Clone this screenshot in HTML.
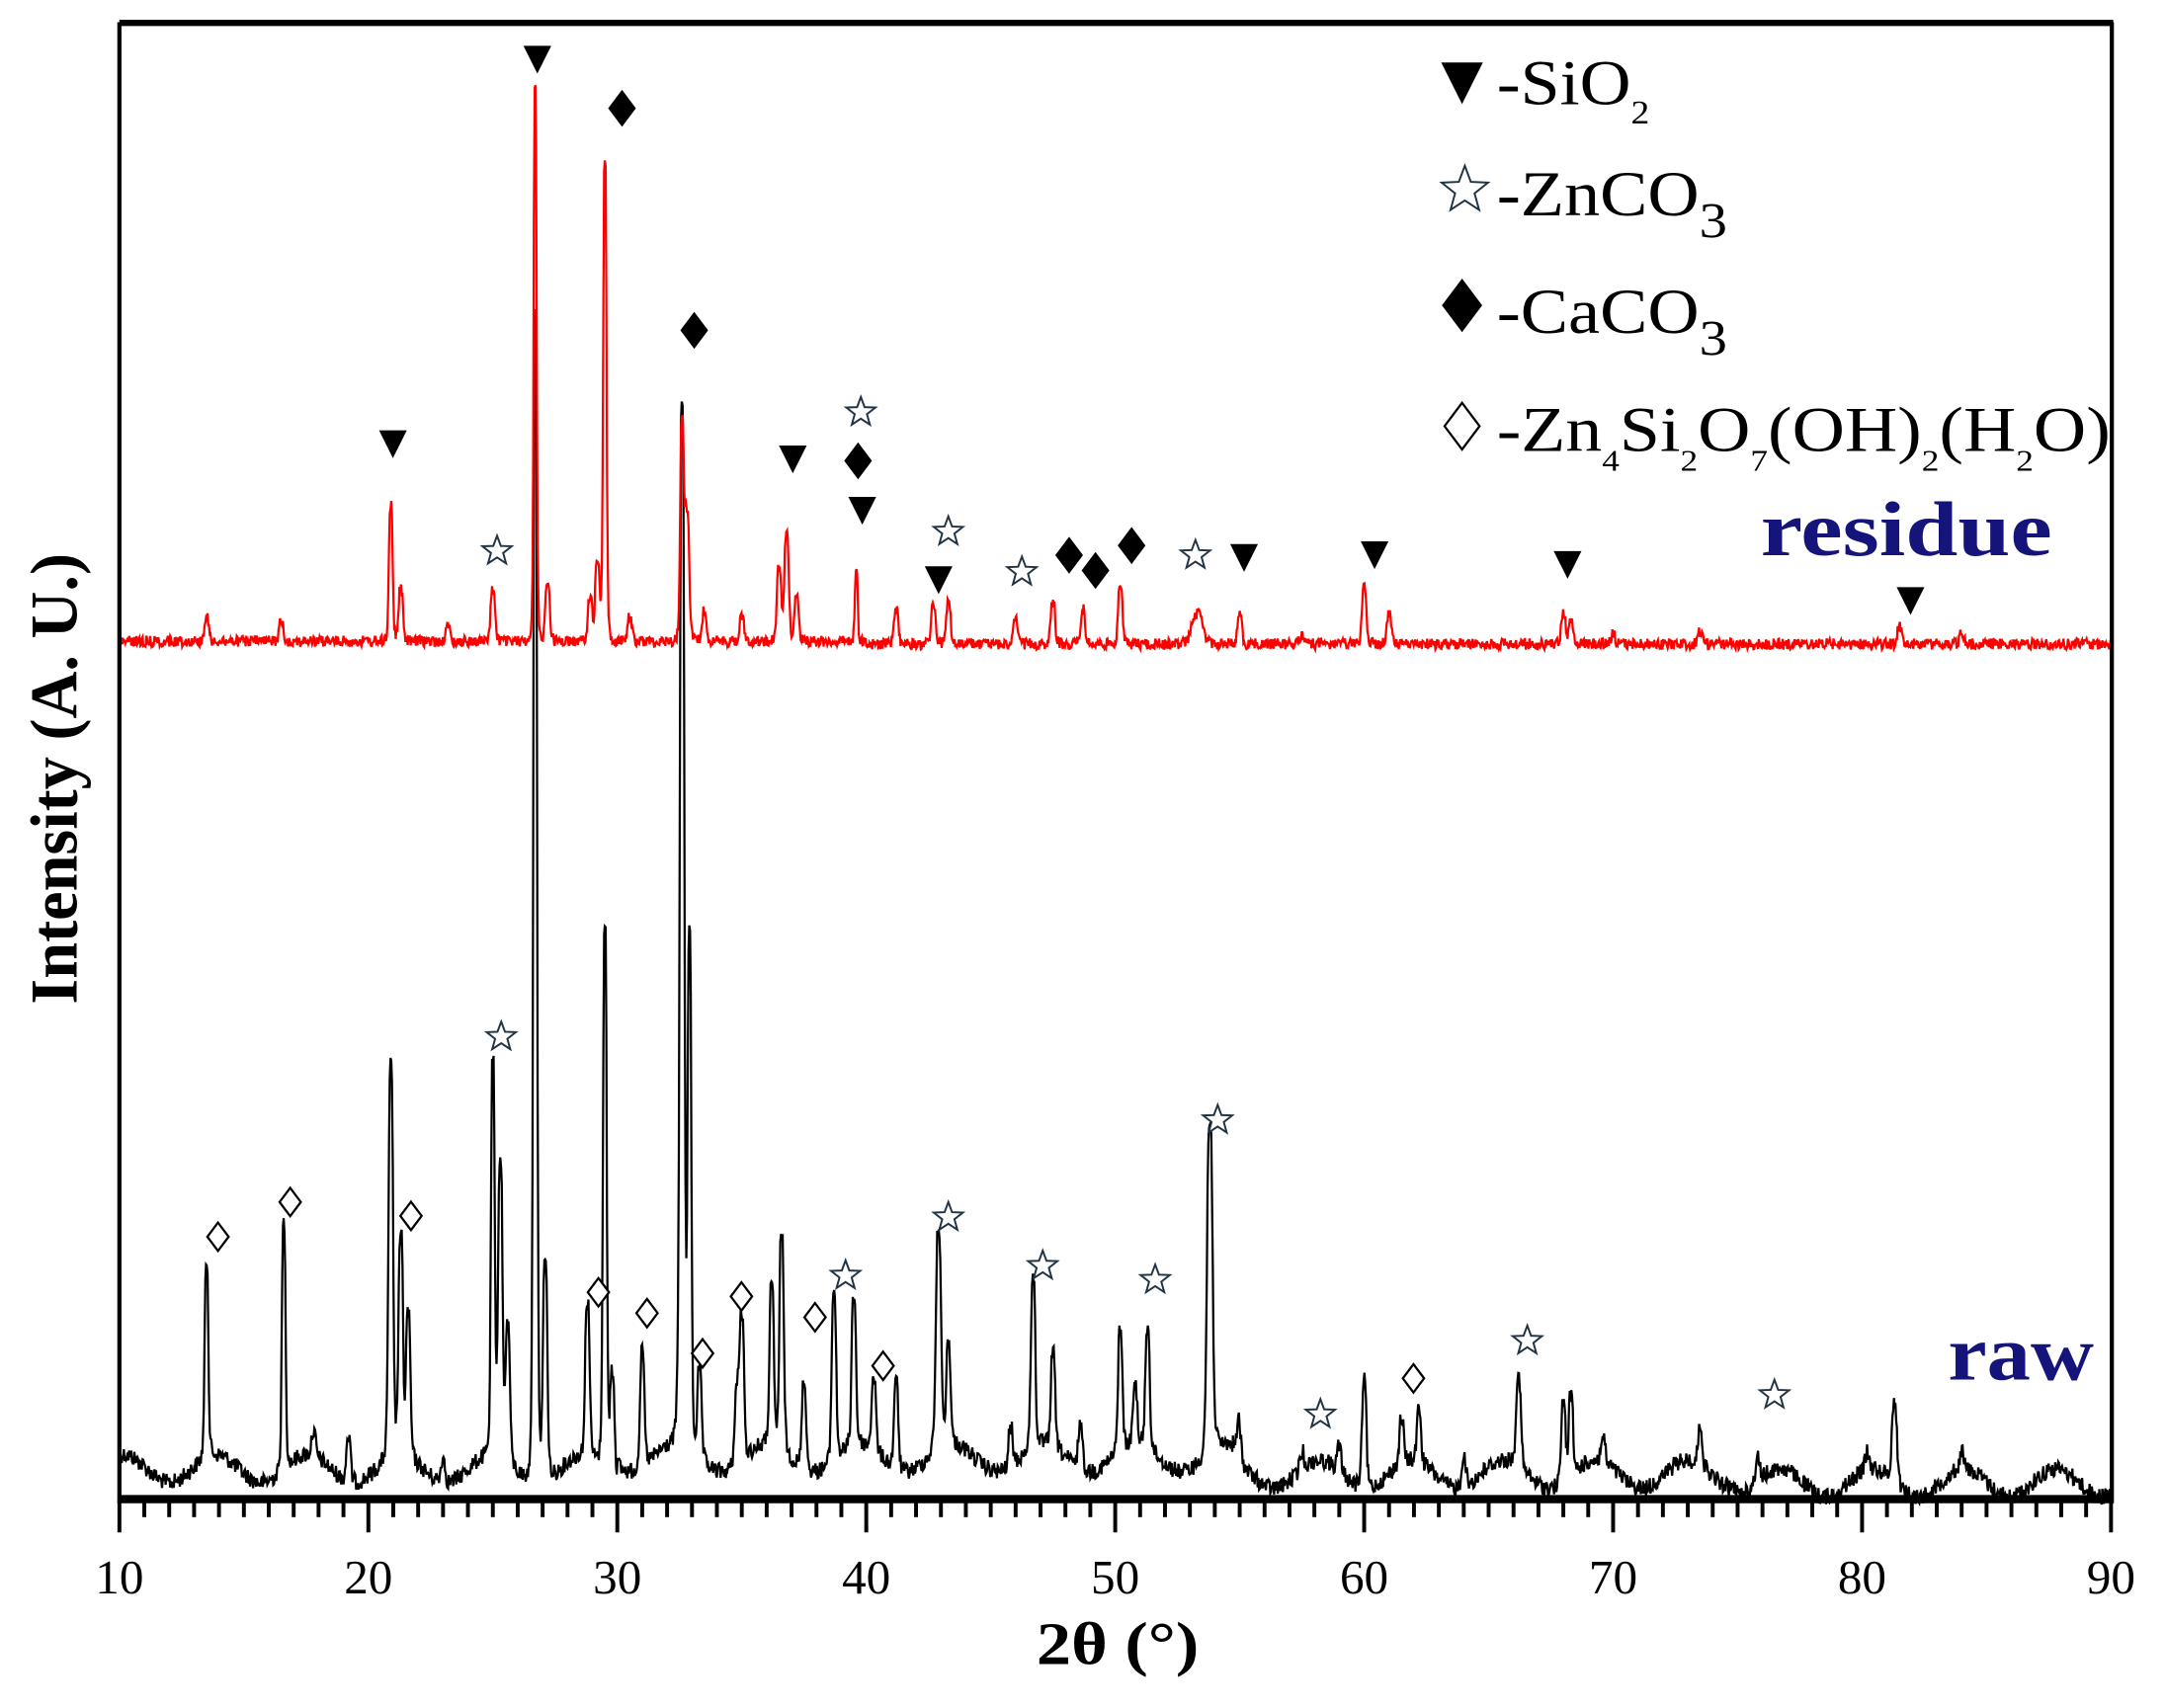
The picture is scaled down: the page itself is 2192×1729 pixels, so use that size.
<!DOCTYPE html>
<html><head><meta charset="utf-8"><style>
html,body{margin:0;padding:0;background:#fff;}
svg{display:block;}
text{font-family:"Liberation Serif",serif;}
</style></head><body>
<svg id="s" width="2192" height="1729" viewBox="0 0 1560 1230.5" preserveAspectRatio="none" xmlns="http://www.w3.org/2000/svg">
<rect width="1560" height="1231" fill="#fff"/>
<g id="curves"></g>
<g id="frame" fill="none" stroke="#000">
<line x1="86" y1="16.5" x2="1522" y2="16.5" stroke-width="4.5"/>
<line x1="86" y1="16" x2="86" y2="1083" stroke-width="3"/>
<line x1="1521" y1="16" x2="1521" y2="1083" stroke-width="3"/>
<line x1="85" y1="1080" x2="1522" y2="1080" stroke-width="6"/>
</g>
<g id="ticks" stroke="#000" stroke-width="2.8"></g>
<g font-size="35" text-anchor="middle" fill="#000">
<text x="86" y="1148">10</text><text x="265.3" y="1148">20</text><text x="444.6" y="1148">30</text>
<text x="623.9" y="1148">40</text><text x="803.2" y="1148">50</text><text x="982.5" y="1148">60</text>
<text x="1161.8" y="1148">70</text><text x="1341.1" y="1148">80</text><text x="1520.4" y="1148">90</text>
</g>
<text x="805" y="1199" font-size="44" font-weight="bold" text-anchor="middle" textLength="117" lengthAdjust="spacingAndGlyphs">2θ (°)</text>
<text transform="translate(55,561) rotate(-90)" font-size="48" font-weight="bold" text-anchor="middle" textLength="325" lengthAdjust="spacingAndGlyphs">Intensity (A. U.)</text>
<g id="marks"></g>
<g font-size="46" fill="#000">
<text x="1078" y="75" textLength="110" lengthAdjust="spacingAndGlyphs">-SiO<tspan font-size="24" dy="14">2</tspan></text>
<text x="1078" y="155" textLength="166" lengthAdjust="spacingAndGlyphs">-ZnCO<tspan font-size="36" dy="16">3</tspan></text>
<text x="1078" y="240" textLength="166" lengthAdjust="spacingAndGlyphs">-CaCO<tspan font-size="36" dy="16">3</tspan></text>
<text x="1078" y="325" textLength="442" lengthAdjust="spacingAndGlyphs">-Zn<tspan font-size="22" dy="14">4</tspan><tspan dy="-14">Si</tspan><tspan font-size="22" dy="14">2</tspan><tspan dy="-14">O</tspan><tspan font-size="22" dy="14">7</tspan><tspan dy="-14">(OH)</tspan><tspan font-size="22" dy="14">2</tspan><tspan dy="-14">(H</tspan><tspan font-size="22" dy="14">2</tspan><tspan dy="-14">O)</tspan></text>
</g>
<text x="1268" y="400" font-size="56" font-weight="bold" fill="#14147a" textLength="210" lengthAdjust="spacingAndGlyphs">residue</text>
<text x="1403" y="994" font-size="56" font-weight="bold" fill="#14147a" textLength="105" lengthAdjust="spacingAndGlyphs">raw</text>
</svg>
<script>
(function(){
var NS="http://www.w3.org/2000/svg";
function X(d){return 86+17.93*(d-10);}
var seed=12345;function rnd(){seed=(seed*1103515245+12345)%2147483648;return seed/2147483648;}
function curve(base,peaks,noise,color,wave){
  var pts=[];
  for(var d=10;d<=90;d+=0.03){
    var y=base+(wave?wave(d):0)+(rnd()-0.5)*noise;
    for(var i=0;i<peaks.length;i++){var p=peaks[i];var w=p[2]||0.12;var t=(d-p[0])/w;
      y-= (base-p[1])/(1+t*t*t*t*2);}
    pts.push(X(d).toFixed(1)+","+y.toFixed(1));
  }
  var pl=document.createElementNS(NS,"polyline");
  pl.setAttribute("points",pts.join(" "));pl.setAttribute("fill","none");
  pl.setAttribute("stroke",color);pl.setAttribute("stroke-width","1.6");
  document.getElementById("curves").appendChild(pl);
}
var raw=[[13.5,920,0.1],[16.6,885,0.1],[17.8,1045],[19.2,1030],[20.9,780,0.12],[21.3,905],[21.6,960],[23,1045],[25,780,0.1],[25.3,850],[25.6,965],[26.7,220,0.1],[27.1,905],[28.8,950],[29.5,670,0.1],[29.8,990],[31,980],[32.6,310,0.12],[32.9,700,0.1],[33.3,1000],[34.8,1010],[35,960],[36.2,950],[36.6,910],[37.5,1000],[38.7,940],[39.5,955],[40.3,1010],[41.2,1000],[42.9,905,0.14],[43.3,990],[45.8,1035],[46.7,940],[47.5,995],[48.6,1030],[50.2,975],[50.8,1020],[51.3,975],[53.8,825,0.15],[55,1040],[57.5,1050],[59,1045],[60,985],[61.5,1030],[62.2,1025],[64,1040],[66.2,1000,0.14],[68,1005],[68.3,1005],[69.6,1045],[73.5,1035],[75.8,1045],[80.2,1050],[81.3,1005,0.14],[84,1050],[88.5,1062]];
curve(1062,raw,12,"#000",function(d){return 10*Math.sin(d*1.7)+(d<30?-4:0)+(d>75?6:0)+(d>30&&d<55?-12:0);});
var res=[[13.5,445],[16.5,448],[20.9,363,0.1],[21.3,425],[23.2,452],[25,425],[26.7,62,0.08],[27.2,420],[28.9,430],[29.2,405],[29.5,115,0.09],[30.5,445],[32.6,308,0.1],[32.8,370],[33.5,440],[35,445],[36.5,410],[36.8,385],[37.2,430],[39.6,410,0.08],[41.2,437],[42.7,433],[43.3,432],[46,445],[47.5,432],[48.7,437],[50.2,420],[53.3,440,0.3],[55,440],[57.5,455],[60,420,0.12],[61,440],[68,440],[68.3,445],[70,455],[73.5,453],[81.5,450],[84,455]];
curve(462,res,8,"#f00",function(d){return d>40?2:0;});
var tg=document.getElementById("ticks");
for(var d=10;d<=90;d++){var l=document.createElementNS(NS,"line");var x=X(d);
 l.setAttribute("x1",x);l.setAttribute("x2",x);l.setAttribute("y1",1080);l.setAttribute("y2",d%10==0?1104:1093);tg.appendChild(l);}
var mg=document.getElementById("marks");
function add(tag,attrs){var e=document.createElementNS(NS,tag);for(var k in attrs)e.setAttribute(k,attrs[k]);mg.appendChild(e);}
function tri(x,y,s){s=s||1;add("polygon",{points:(x-10*s)+","+(y-10*s)+" "+(x+10*s)+","+(y-10*s)+" "+x+","+(y+10*s),fill:"#000"});}
function dia(x,y,s,fill){s=s||1;add("polygon",{points:x+","+(y-12*s)+" "+(x+9*s)+","+y+" "+x+","+(y+12*s)+" "+(x-9*s)+","+y,fill:fill?"#000":"#fff",stroke:"#000","stroke-width":1.6});}
function star(x,y,s){s=s||1;var p=[];for(var i=0;i<10;i++){var r=(i%2?4.6:11)*s;var a=-Math.PI/2+i*Math.PI/5;p.push((x+r*Math.cos(a)).toFixed(1)+","+(y+r*Math.sin(a)).toFixed(1));}
 add("polygon",{points:p.join(" "),fill:"#fff",stroke:"#234","stroke-width":1.4});}
[[283,320],[387,43],[571,331],[621,368],[676,418],[896,402],[990,400],[1129,407],[1376,433]].forEach(function(p){tri(p[0],p[1]);});
[[448,78],[500,238],[618,332],[770,400],[789,411],[815,393]].forEach(function(p){dia(p[0],p[1],1,true);});
[[358,397],[620,297],[683,383],[736,412],[861,400],[361,747],[683,877],[609,919],[751,912],[832,922],[877,807],[951,1019],[1100,966],[1278,1005]].forEach(function(p){star(p[0],p[1]);});
[[157,891],[209,866],[296,876],[431,931],[466,946],[534,934],[587,949],[506,975],[636,984],[1018,993]].forEach(function(p){dia(p[0],p[1],0.85,false);});
tri(1053,60,1.5);star(1055,137,1.6);dia(1053,220,1.5,true);dia(1053,307,1.4,false);
})();
</script>
</body></html>
